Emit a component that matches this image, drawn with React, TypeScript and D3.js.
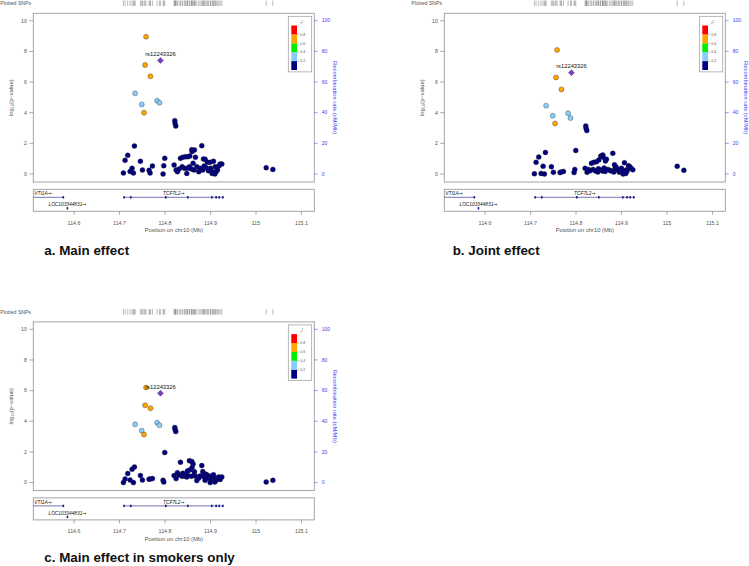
import React from "react";
import * as d3 from "d3";

// ---------- data ----------
const snpPos = [
  114.7085, 114.7122, 114.718, 114.7232, 114.7276, 114.7305, 114.7327, 114.7342, 114.7459, 114.7488,
  114.7503, 114.7539, 114.7561, 114.7583, 114.7649, 114.7671, 114.7679, 114.7723, 114.7825, 114.7877,
  114.7899, 114.7957, 114.7972, 114.7994, 114.8199, 114.8214, 114.8221, 114.8236, 114.8243, 114.8273,
  114.8309, 114.8339, 114.8375, 114.839, 114.8427, 114.8449, 114.8478, 114.8492, 114.85, 114.8536,
  114.8544, 114.8581, 114.8588, 114.8595, 114.8617, 114.8639, 114.8646, 114.8668, 114.8698, 114.8742,
  114.8771, 114.8808, 114.883, 114.8844, 114.8859, 114.8881, 114.8903, 114.8932, 114.8954, 114.8991,
  114.8999, 114.9035, 114.905, 114.9064, 114.9094, 114.9101, 114.9123, 114.9152, 114.9182, 114.9211,
  114.9248, 115.0223, 115.0369,
];
const snpLD = [
  0.05, 0.05, 0.05, 0.05, 0.05, 0.05, 0.05, 0.3, 0.05, 0.3,
  0.05, 0.7, 0.7, 0.7, 0.05, 0.05, 0.7, 0.05, 0.3, 0.3,
  1.0, 0.05, 0.05, 0.05, 0.05, 0.05, 0.05, 0.05, 0.05, 0.05,
  0.05, 0.05, 0.05, 0.05, 0.05, 0.05, 0.05, 0.05, 0.05, 0.05,
  0.05, 0.05, 0.05, 0.05, 0.05, 0.05, 0.05, 0.05, 0.05, 0.05,
  0.05, 0.05, 0.05, 0.05, 0.05, 0.05, 0.05, 0.05, 0.05, 0.05,
  0.05, 0.05, 0.05, 0.05, 0.05, 0.05, 0.05, 0.05, 0.05, 0.05,
  0.05, 0.05, 0.05,
];
const logpMain = [
  0.07, 0.89, 1.22, 0.17, 0.37, 0.07, 1.83, 5.26, 0.83, 4.54,
  0.26, 4.0, 7.11, 8.96, 0.24, 0.07, 6.37, 0.52, 4.78, 4.65,
  7.41, 0.0, 0.54, 1.02, 0.59, 3.48, 3.3, 3.13, 0.26, 0.15,
  0.33, 1.02, 0.48, 1.09, 0.37, 1.13, 0.04, 0.37, 1.13, 0.48,
  1.17, 0.33, 1.59, 1.46, 0.7, 0.26, 1.57, 1.09, 0.48, 0.15,
  0.37, 1.85, 0.26, 0.98, 0.52, 0.96, 0.41, 0.76, 0.22, 0.76,
  0.37, 0.04, 0.15, 0.83, 0.0, 0.48, 0.15, 0.26, 0.52, 0.65,
  0.65, 0.41, 0.3,
];
const logpJoint = [
  0.02, 0.76, 1.11, 0.04, 0.5, 0.0, 1.41, 4.46, 0.48, 3.8,
  0.11, 3.3, 6.3, 8.09, 0.09, 0.13, 5.52, 0.17, 3.96, 3.65,
  6.61, 0.09, 0.3, 1.54, 0.37, 3.13, 2.98, 2.83, 0.11, 0.3,
  0.22, 0.7, 0.3, 0.76, 0.2, 0.8, 0.13, 0.35, 0.91, 0.26,
  1.17, 0.2, 1.24, 1.09, 0.39, 0.17, 0.85, 0.96, 0.3, 0.24,
  0.2, 1.35, 0.13, 0.61, 0.37, 0.46, 0.26, 0.3, 0.11, 0.22,
  0.37, 0.0, 0.17, 0.74, 0.04, 0.26, 0.2, 0.54, 0.48, 0.37,
  0.28, 0.5, 0.24,
];
const logpSmokers = [
  0.0, 0.24, 0.59, 0.17, 0.87, 0.0, 1.02, 3.8, 0.46, 3.39,
  0.17, 3.13, 5.04, 6.2, 0.22, 0.24, 4.85, 0.26, 3.91, 3.74,
  5.83, 0.15, 0.04, 1.96, 0.46, 3.59, 3.46, 3.33, 0.26, 0.65,
  0.5, 1.33, 0.41, 0.61, 0.43, 0.54, 0.37, 0.76, 0.46, 1.43,
  0.83, 0.41, 1.37, 0.98, 1.22, 0.48, 0.7, 0.43, 0.13, 0.3,
  0.43, 1.11, 0.72, 0.59, 0.37, 0.15, 0.54, 0.48, 0.28, 0.0,
  0.41, 0.22, 0.35, 0.52, 0.04, 0.26, 0.15, 0.3, 0.37, 0.2,
  0.37, 0.04, 0.15,
];
const leadSNP = "rs12243326";
const panelTitles = ["a. Main effect", "b. Joint effect", "c. Main effect in smokers only"];
const xTicks = [114.6, 114.7, 114.8, 114.9, 115, 115.1];
const yTicks = [0, 2, 4, 6, 8, 10];
const recombTicks = [0, 20, 40, 60, 80, 100];
const ldBreaks = [0.2, 0.4, 0.6, 0.8];
const ldColors = ["#000080", "#87CEFA", "#00EE00", "#FFA500", "#FF0000"];
const leadColor = "#7B3FC4";

const geneNames = ["VTI1A", "TCF7L2", "LOC103344831"];
const geneStarts = [114.45, 114.71, 114.5851];
const geneEnds = [114.5765, 114.9284, 114.5859];
const geneRows = [0, 0, 1];
const geneExons = [
  [114.5765],
  [114.71, 114.7247, 114.8016, 114.85, 114.9028, 114.9123, 114.9189, 114.927],
  [114.5855],
];

// ---------- layout ----------
const FONT = "Liberation Sans, Arial, Helvetica, sans-serif";
const L = 33.3, R = 314.3, T = 13.3, B = 182;
const GT = 189.3, GB = 211.3;

function Panel({ ox, oy, values }: { ox: number; oy: number; values: number[] }) {
  const x = d3.scaleLinear().domain([114.5105, 115.128]).range([L, R]);
  const y = d3.scaleLinear().domain([0, 10]).range([174, 20.7]);
  const yR = d3.scaleLinear().domain([0, 100]).range([174, 20.7]);
  const color = d3.scaleThreshold<number, string>().domain(ldBreaks).range(ldColors);
  const order = d3.range(snpPos.length).sort((i, j) => snpLD[i] - snpLD[j]);
  const leadIdx = snpLD.indexOf(1);
  const leg = d3.scaleLinear().domain([1, 0]).range([25.5, 70]);
  const legBands = [0, 0.2, 0.4, 0.6, 0.8];
  const diamond = d3.symbol(d3.symbolSquare, 18)();
  const rowY = (r: number) => 197.3 + r * 11;
  const gray = "#555";
  const blue = "#3c3cf0";
  return (
    <g transform={`translate(${ox},${oy})`} fontFamily={FONT}>
      {/* plotted SNPs track */}
      <text x={0.3} y={5} fontSize={5.2} fill={gray}>Plotted SNPs</text>
      {snpPos.map((p, i) => (
        <line key={"t" + i} x1={x(p)} x2={x(p)} y1={0.5} y2={6} stroke="#666" strokeWidth={0.45} />
      ))}

      {/* plot box */}
      <rect x={L} y={T} width={R - L} height={B - T} fill="white" stroke="#9a9a9a" strokeWidth={0.9} />

      {/* left axis */}
      {yTicks.map((t) => (
        <g key={"y" + t}>
          <line x1={L - 4} x2={L} y1={y(t)} y2={y(t)} stroke={gray} strokeWidth={0.5} />
          <text x={L - 6.5} y={y(t)} dy="0.35em" textAnchor="end" fontSize={5.2} fill={gray}>{t}</text>
        </g>
      ))}
      <text transform={`translate(12.5,${(T + B) / 2}) rotate(-90)`} textAnchor="middle" fontSize={5.8} fill={gray}>
        log<tspan fontSize={4} dy={1.5}>10</tspan><tspan dy={-1.5}>(p−value)</tspan>
      </text>

      {/* right axis */}
      {recombTicks.map((t) => (
        <g key={"r" + t}>
          <line x1={R} x2={R + 3.5} y1={yR(t)} y2={yR(t)} stroke={blue} strokeWidth={0.5} />
          <text x={R + 7.5} y={yR(t)} dy="0.35em" fontSize={5} fill={blue}>{t}</text>
        </g>
      ))}
      <text transform={`translate(335,${(T + B) / 2}) rotate(90)`} textAnchor="middle" dy="0.35em" fontSize={5.8} fill={blue}>
        Recombination rate (cM/Mb)
      </text>

      {/* points */}
      {order.filter((i) => i !== leadIdx).map((i) => (
        <circle key={"p" + i} cx={x(snpPos[i])} cy={y(values[i])} r={2.5}
          fill={color(snpLD[i])} stroke="#222" strokeWidth={0.35} />
      ))}
      <path d={diamond!} transform={`translate(${x(snpPos[leadIdx])},${y(values[leadIdx])}) rotate(45)`}
        fill={leadColor} stroke="#222" strokeWidth={0.35} />
      <text x={x(snpPos[leadIdx])} y={y(values[leadIdx]) - 4.2} textAnchor="middle" fontSize={5.8} fill="#111">
        {leadSNP}
      </text>

      {/* legend */}
      <rect x={288.3} y={16.3} width={23.4} height={55.6} fill="white" stroke="#9a9a9a" strokeWidth={0.7} />
      <text x={300.2} y={24.3} fontSize={4} fill={gray}>r<tspan fontSize={2.8} dy={-1.6}>2</tspan></text>
      {legBands.map((b, k) => (
        <rect key={"lb" + k} x={291.3} y={leg(b + 0.2)} width={5.7} height={leg(b) - leg(b + 0.2)}
          fill={ldColors[k]} />
      ))}
      {ldBreaks.map((b) => (
        <g key={"ll" + b}>
          <line x1={297} x2={299} y1={leg(b)} y2={leg(b)} stroke={gray} strokeWidth={0.4} />
          <text x={300.2} y={leg(b)} dy="0.35em" fontSize={3.6} fill={gray}>{b.toFixed(1)}</text>
        </g>
      ))}

      {/* gene panel */}
      <rect x={L} y={GT} width={R - L} height={GB - GT} fill="white" stroke="#9a9a9a" strokeWidth={0.9} />
      {geneNames.map((g, k) => {
        const x0 = Math.max(x(geneStarts[k]), L);
        const x1 = Math.min(x(geneEnds[k]), R);
        const yy = rowY(geneRows[k]);
        const clipped = x(geneStarts[k]) < L;
        return (
          <g key={"g" + g}>
            <line x1={x0} x2={x1} y1={yy} y2={yy} stroke="#1a1a80" strokeWidth={0.6} />
            {geneExons[k].map((e, j) => (
              <rect key={j} x={x(e) - 0.8} y={yy - 1.2} width={1.6} height={2.4} fill="#1a1a80" />
            ))}
            <text x={clipped ? L + 1 : (x0 + x1) / 2} y={yy - 2.2} textAnchor={clipped ? "start" : "middle"}
              fontSize={4.8} fill="#111">
              <tspan fontStyle="italic">{g}</tspan>
              <tspan fontFamily="DejaVu Sans" fontSize={4.8}>→</tspan>
            </text>
          </g>
        );
      })}

      {/* x axis */}
      {xTicks.map((t) => (
        <g key={"x" + t}>
          <line x1={x(t)} x2={x(t)} y1={GB} y2={GB + 3.5} stroke={gray} strokeWidth={0.5} />
          <text x={x(t)} y={224.6} textAnchor="middle" fontSize={5.3} fill={gray}>{t}</text>
        </g>
      ))}
      <text x={(L + R) / 2} y={232.3} textAnchor="middle" fontSize={5.8} fill={gray}>Position on chr10 (Mb)</text>
    </g>
  );
}

export default function App() {
  return (
    <svg width={749} height={566} style={{ position: "absolute", left: 0, top: 0, background: "white" }}>
      <rect x={0} y={0} width={749} height={566} fill="white" />
      <Panel ox={0} oy={0} values={logpMain} />
      <Panel ox={411} oy={0} values={logpJoint} />
      <Panel ox={0} oy={308.6} values={logpSmokers} />
      <g fontFamily={FONT} fontWeight="bold" fontSize={13.4} fill="#111">
        <text x={44.3} y={255.4}>{panelTitles[0]}</text>
        <text x={452.7} y={255}>{panelTitles[1]}</text>
        <text x={44.3} y={561.6}>{panelTitles[2]}</text>
      </g>
    </svg>
  );
}
